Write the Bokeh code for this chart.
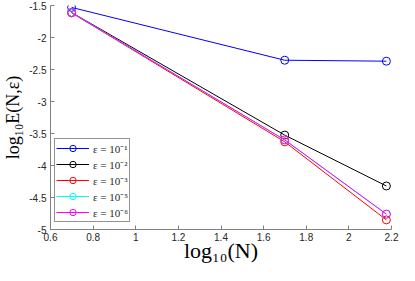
from bokeh.plotting import figure
from bokeh.models import Legend, LegendItem, FixedTicker
from bokeh.embed import file_html
from bokeh.resources import INLINE

# data
log10N = [0.699, 1.699, 2.176]
eps1 = [-1.53, -2.355, -2.37]
eps2 = [-1.61, -3.525, -4.32]
eps3 = [-1.615, -3.63, -4.85]
eps5 = [-1.612, -3.60, -4.76]
eps6 = [-1.612, -3.60, -4.76]
series_labels = ["ε = 10⁻¹", "ε = 10⁻²", "ε = 10⁻³", "ε = 10⁻⁵", "ε = 10⁻⁶"]
series_colors = ["#0000ff", "#000000", "#ff0000", "#00ffff", "#ff00ff"]
x_ticks = [0.6, 0.8, 1, 1.2, 1.4, 1.6, 1.8, 2, 2.2]
x_tick_labels = ["0.6", "0.8", "1", "1.2", "1.4", "1.6", "1.8", "2", "2.2"]
y_ticks = [-5, -4.5, -4, -3.5, -3, -2.5, -2, -1.5]
y_tick_labels = ["-5", "-4.5", "-4", "-3.5", "-3", "-2.5", "-2", "-1.5"]

p = figure(width=399, height=265, x_range=(0.6, 2.2), y_range=(-5, -1.5),
           output_backend="svg", toolbar_location=None,
           min_border_top=5, min_border_right=8, min_border_left=2, min_border_bottom=0)
p.outline_line_color = None
p.grid.visible = False
p.background_fill_color = "white"

items = []
for ys, lab, col in zip([eps1, eps2, eps3, eps5, eps6], series_labels, series_colors):
    r1 = p.line(log10N, ys, line_color=col, line_width=1)
    r2 = p.scatter(log10N, ys, marker="circle", size=8, fill_color=None,
                   line_color=col, line_width=1)
    items.append(LegendItem(label=lab, renderers=[r1, r2]))

legend = Legend(items=items, location=(4, 7))
legend.label_text_font = "Liberation Serif"
legend.label_text_font_size = "11px"
legend.label_text_color = "#262626"
legend.glyph_width = 33
legend.glyph_height = 16
legend.label_height = 12
legend.spacing = -4
legend.padding = 1
legend.margin = 0
legend.label_standoff = 4
legend.border_line_color = "#262626"
legend.border_line_width = 1
legend.background_fill_alpha = 1
p.add_layout(legend)

for ax in (p.xaxis, p.yaxis):
    ax.axis_line_color = "#808080"
    ax.major_tick_line_color = "#808080"
    ax.major_tick_in = 4
    ax.major_tick_out = 0
    ax.minor_tick_line_color = None
    ax.major_label_text_font = "Liberation Sans"
    ax.major_label_text_font_size = "10px"
    ax.major_label_text_color = "#262626"
    ax.axis_label_text_font = "Liberation Serif"
    ax.axis_label_text_font_style = "normal"
    ax.axis_label_text_color = "#000000"

p.xaxis.ticker = FixedTicker(ticks=x_ticks)
p.yaxis.ticker = FixedTicker(ticks=y_ticks)
p.xaxis.major_label_overrides = dict(zip(x_ticks, x_tick_labels))
p.yaxis.major_label_overrides = dict(zip(y_ticks, y_tick_labels))
p.xaxis.axis_label = "log₁₀(N)"
p.yaxis.axis_label = "log₁₀E(N,ε)"
p.xaxis.axis_label_text_font_size = "22px"
p.yaxis.axis_label_text_font_size = "18px"
p.xaxis.major_label_standoff = 3
p.yaxis.major_label_standoff = 4
p.xaxis.axis_label_standoff = -6
p.yaxis.axis_label_standoff = 3

open("out.html", "w").write(file_html(p, INLINE))
